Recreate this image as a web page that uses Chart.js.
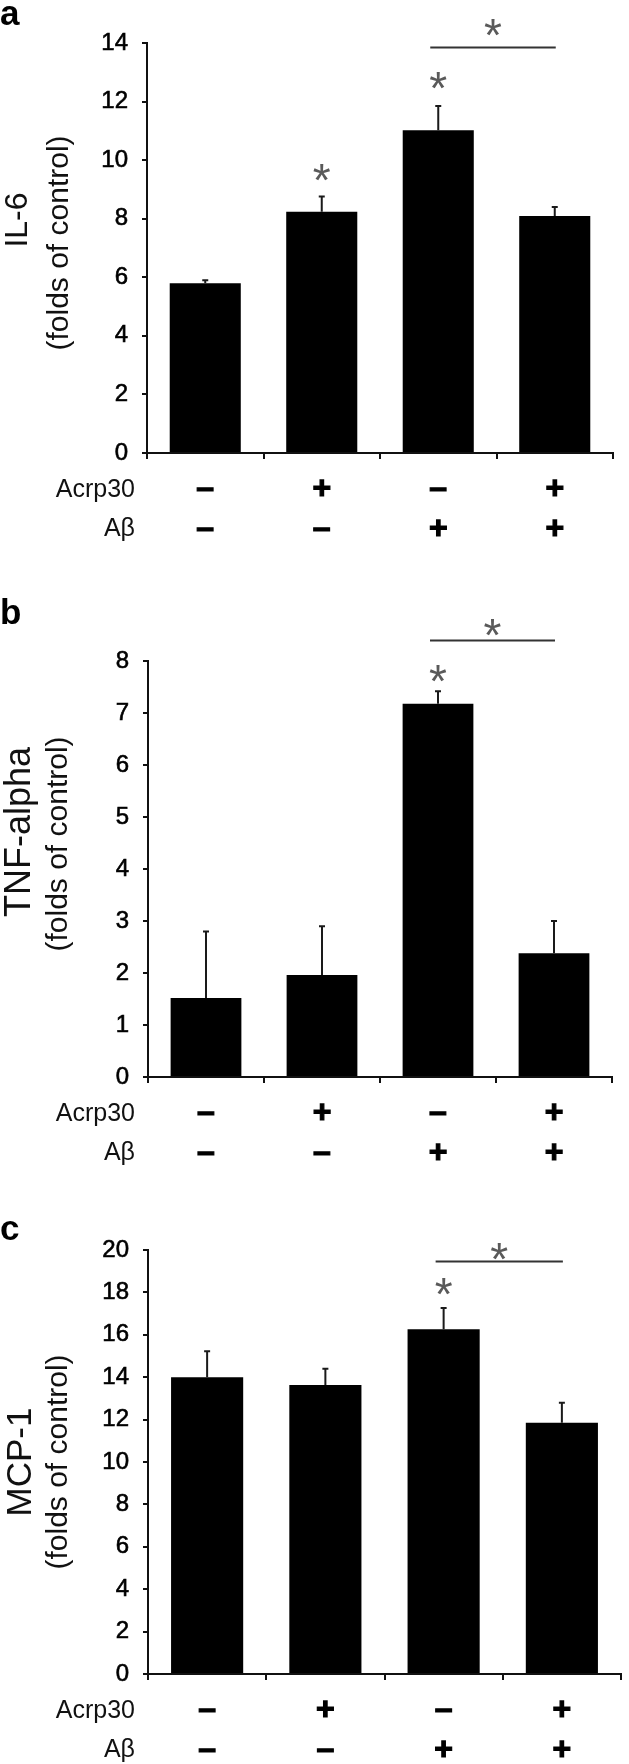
<!DOCTYPE html>
<html><head><meta charset="utf-8">
<script src="https://cdn.jsdelivr.net/npm/chart.js@4.4.0/dist/chart.umd.min.js"></script>
<style>
html,body{margin:0;padding:0;background:#fff;}
body{width:629px;height:1764px;position:relative;overflow:hidden;font-family:'Liberation Sans',Arial,sans-serif;}
.panel{position:absolute;left:0;width:629px;}
canvas{display:block;}
</style></head><body>
<div class="panel" style="top:0;height:570px"><canvas id="ca" width="629" height="570"></canvas></div>
<div class="panel" style="top:570px;height:600px"><canvas id="cb" width="629" height="600"></canvas></div>
<div class="panel" style="top:1170px;height:594px"><canvas id="cc" width="629" height="594"></canvas></div>
<script>
// ---- data ----
const categories = ['ctrl', 'Acrp30', 'Abeta', 'Acrp30+Abeta'];
const acrp30Row = ['–', '+', '–', '+'];
const abetaRow = ['–', '–', '+', '+'];
const rowNames = ['Acrp30', 'Aβ'];

const il6Values = [5.80, 8.24, 11.02, 8.09];
const il6Errors = [0.10, 0.52, 0.83, 0.31];
const il6Stars = [null, 9.66, 12.82, null];
const il6Bracket = [13.86, 14.63];   // line level, star level
const il6Ticks = [0, 14, 2];          // min, max, step

const tnfValues = [1.52, 1.96, 7.18, 2.38];
const tnfErrors = [1.28, 0.94, 0.24, 0.62];
const tnfStars = [null, null, 7.80, null];
const tnfBracket = [8.40, 8.69];
const tnfTicks = [0, 8, 1];

const mcpValues = [14.00, 13.63, 16.26, 11.85];
const mcpErrors = [1.22, 0.77, 1.01, 0.95];
const mcpStars = [null, null, 18.39, null];
const mcpBracket = [19.46, 20.05];
const mcpTicks = [0, 20, 2];

const FONT = "'Liberation Sans', Arial, sans-serif";

const annot = {
  id: 'annot',
  afterDatasetsDraw(chart) {
    const o = chart.options.plugins.annot;
    const ctx = chart.ctx;
    const ys = chart.scales.y;
    const meta = chart.getDatasetMeta(0);
    ctx.save();
    // error bars (upper only)
    ctx.strokeStyle = '#1a1a1a';
    ctx.lineWidth = 2;
    meta.data.forEach((el, i) => {
      const top = ys.getPixelForValue(o.values[i] + o.errors[i]);
      ctx.beginPath();
      ctx.moveTo(el.x, el.y);
      ctx.lineTo(el.x, top);
      ctx.moveTo(el.x - 3, top);
      ctx.lineTo(el.x + 3, top);
      ctx.stroke();
    });
    // stars above bars
    ctx.fillStyle = '#5a5a5a';
    ctx.font = '46px ' + FONT;
    ctx.textAlign = 'center';
    ctx.textBaseline = 'alphabetic';
    meta.data.forEach((el, i) => {
      if (o.stars[i] != null) {
        ctx.fillText('*', el.x, ys.getPixelForValue(o.stars[i]) + 26);
      }
    });
    // bracket between 3rd and 4th bar
    const x1 = meta.data[2].x - 8, x2 = meta.data[3].x + 1;
    const by = Math.round(ys.getPixelForValue(o.bracket[0])) + 0.5;
    ctx.strokeStyle = '#333';
    ctx.lineWidth = 2;
    ctx.beginPath(); ctx.moveTo(x1, by); ctx.lineTo(x2, by); ctx.stroke();
    ctx.fillText('*', (x1 + x2) / 2, ys.getPixelForValue(o.bracket[1]) + 26);
    ctx.restore();
  },
  afterDraw(chart) {
    const o = chart.options.plugins.annot;
    const L = o.layout;
    const ctx = chart.ctx;
    const zero = chart.scales.y.getPixelForValue(0);
    ctx.save();
    // panel letter
    ctx.fillStyle = '#000';
    ctx.font = 'bold 35px ' + FONT;
    ctx.textAlign = 'left';
    ctx.textBaseline = 'alphabetic';
    ctx.fillText(o.letter, 0, L.letterY);
    // row headers
    ctx.fillStyle = '#111';
    ctx.font = '25px ' + FONT;
    ctx.textAlign = 'right';
    ctx.textBaseline = 'middle';
    ctx.fillText(rowNames[0], 135, zero + 37);
    ctx.fillText(rowNames[1], 135, zero + 76);
    // y titles
    ctx.textAlign = 'center';
    ctx.save();
    ctx.translate(L.t1x, L.t1y); ctx.rotate(-Math.PI / 2);
    ctx.font = L.t1size + 'px ' + FONT;
    ctx.fillText(o.title, 0, 0);
    ctx.restore();
    ctx.save();
    ctx.translate(L.t2x, L.t2y); ctx.rotate(-Math.PI / 2);
    ctx.font = '30px ' + FONT;
    ctx.fillText('(folds of control)', 0, 0);
    ctx.restore();
    ctx.restore();
  }
};

function makePanel(id, letter, title, values, errors, stars, bracket, ticks, L) {
  return new Chart(document.getElementById(id), {
    type: 'bar',
    data: {
      labels: categories.map((c, i) => [acrp30Row[i], abetaRow[i]]),
      datasets: [{ data: values, backgroundColor: '#000', borderWidth: 0,
                   barPercentage: 0.61, categoryPercentage: 1 }]
    },
    options: {
      responsive: false, animation: false, devicePixelRatio: 1,
      layout: { padding: { top: L.padTop, right: L.padRight, left: 0, bottom: 0 } },
      plugins: {
        legend: { display: false }, tooltip: { enabled: false },
        annot: { letter, title, values, errors, stars, bracket, layout: L }
      },
      scales: {
        x: {
          offset: true,
          grid: { offset: true, drawOnChartArea: false, drawTicks: true, tickLength: 6, color: '#111', lineWidth: 2 },
          border: { display: true, color: '#111', width: 2 },
          ticks: { font: { family: FONT, size: 32, weight: 'bold', lineHeight: 1.225 }, color: '#000',
                   textStrokeColor: '#000', textStrokeWidth: 1.2,
                   padding: 11, maxRotation: 0, autoSkip: false },
          afterFit(s) { s.height = L.xHeight; }
        },
        y: {
          min: ticks[0], max: ticks[1],
          ticks: { stepSize: ticks[2], font: { family: FONT, size: 24 }, color: '#000',
                   textStrokeColor: '#000', textStrokeWidth: 0.6, padding: 14 },
          grid: { drawOnChartArea: false, drawTicks: true, tickLength: 5, color: '#111', lineWidth: 2 },
          border: { display: true, color: '#111', width: 2 },
          afterFit(s) { s.width = L.left; }
        }
      }
    },
    plugins: [annot]
  });
}

makePanel('ca', 'a', 'IL-6', il6Values, il6Errors, il6Stars, il6Bracket, il6Ticks,
  { padTop: 43, padRight: 16, xHeight: 117, left: 147, letterY: 25,
    t1x: 18.5, t1y: 220, t1size: 32, t2x: 60, t2y: 243 });
makePanel('cb', 'b', 'TNF-alpha', tnfValues, tnfErrors, tnfStars, tnfBracket, tnfTicks,
  { padTop: 91, padRight: 17, xHeight: 93, left: 148, letterY: 54,
    t1x: 20, t1y: 262, t1size: 36, t2x: 59, t2y: 274 });
makePanel('cc', 'c', 'MCP-1', mcpValues, mcpErrors, mcpStars, mcpBracket, mcpTicks,
  { padTop: 80, padRight: 8, xHeight: 90, left: 148, letterY: 70,
    t1x: 21, t1y: 292, t1size: 35, t2x: 59, t2y: 292 });
</script>
</body></html>
